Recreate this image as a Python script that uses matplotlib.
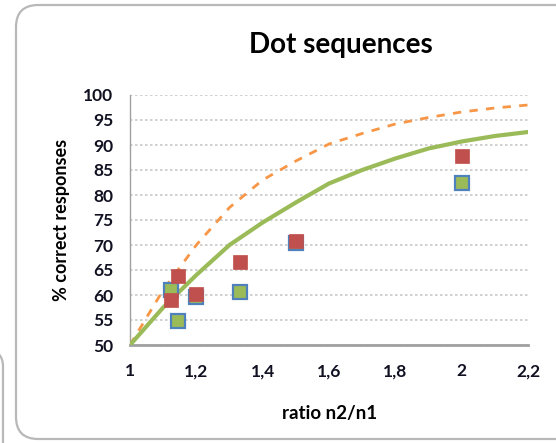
import matplotlib
matplotlib.use('Agg')
import matplotlib.pyplot as plt
from matplotlib.patches import FancyBboxPatch
from matplotlib.ticker import FuncFormatter

plt.rcParams['font.family'] = ['Lato', 'DejaVu Sans']

# model curves
curve_x = [1.0, 1.1, 1.2, 1.3, 1.4, 1.5, 1.6, 1.7, 1.8, 1.9, 2.0, 2.1, 2.2]
green_curve = [50, 57.5, 64, 70, 74.5, 78.5, 82.3, 85, 87.3, 89.3, 90.7, 91.8, 92.6]
orange_curve = [50, 61, 70, 77.5, 83, 86.8, 90.2, 92.3, 94.2, 95.5, 96.6, 97.4, 98.0]

# observed points
obs_x = [1.125, 1.145, 1.2, 1.333, 1.5, 2.0]
red_pts = [59.0, 63.7, 60.2, 66.5, 70.8, 87.8]
blue_pts = [61.0, 54.8, 59.6, 60.6, 70.4, 82.3]

xticks = [1, 1.2, 1.4, 1.6, 1.8, 2, 2.2]
yticks = list(range(50, 101, 5))

fig = plt.figure(figsize=(5.56, 4.43), dpi=100)
W, H = 556.0, 443.0

# panel frames (pixel coords -> figure fractions)
box = FancyBboxPatch((16 / W, 4 / H), (600 - 16) / W, (438 - 4) / H,
                     boxstyle='round,pad=0,rounding_size=0.04',
                     transform=fig.transFigure, fill=False,
                     edgecolor='#b8b8b8', linewidth=1.6, mutation_aspect=W / H)
fig.patches.append(box)
box2 = FancyBboxPatch((-60 / W, -40 / H), 63 / W, (443 - 350 + 40) / H,
                      boxstyle='round,pad=0,rounding_size=0.03',
                      transform=fig.transFigure, fill=False,
                      edgecolor='#b8b8b8', linewidth=1.6, mutation_aspect=W / H)
fig.patches.append(box2)

ax = fig.add_axes([130 / W, 1 - 345 / H, (528 - 130) / W, (345 - 95) / H])

ax.plot(curve_x, orange_curve, color='#f79646', lw=2.0, dashes=(3, 3), zorder=3)
ax.plot(curve_x, green_curve, color='#9bbb59', lw=3.0, zorder=3)
ax.plot(obs_x, blue_pts, 's', ms=9.5, mfc='#9bbb59', mec='#4f81bd', mew=1.6, ls='none', zorder=4)
ax.plot(obs_x, red_pts, 's', ms=10, mfc='#c0504d', mec='#c0504d', mew=0.5, ls='none', zorder=5)

ax.set_xlim(1, 2.2)
ax.set_ylim(50, 100)
ax.set_xticks(xticks)
ax.set_yticks(yticks)
ax.xaxis.set_major_formatter(FuncFormatter(lambda v, p: ('%g' % v).replace('.', ',')))
ax.tick_params(length=0, labelsize=12.5, colors='#111122')
ax.tick_params(axis='x', pad=13)
ax.tick_params(axis='y', pad=12)
for lbl in ax.get_xticklabels() + ax.get_yticklabels():
    lbl.set_fontweight('bold')

ax.grid(axis='y', color='#c8c8c8', linestyle=(0, (1.5, 1.5)), linewidth=1.2)
ax.set_axisbelow(True)
for side in ['top', 'right']:
    ax.spines[side].set_visible(False)
ax.spines['left'].set_color('#a0a0a0')
ax.spines['left'].set_linewidth(1.0)
ax.spines['bottom'].set_color('#a0a0a0')
ax.spines['bottom'].set_linewidth(2.0)

fig.text(341 / W, 1 - 53 / H, 'Dot sequences', ha='center', va='baseline',
         fontsize=20, fontweight='bold')
fig.text(61 / W, 1 - 220 / H, '% correct responses', ha='center', va='center',
         rotation=90, fontsize=13, fontweight='bold')
fig.text(330 / W, 1 - 413 / H, 'ratio n2/n1', ha='center', va='center',
         fontsize=13.5, fontweight='bold')

fig.savefig('out.png', dpi=100)
